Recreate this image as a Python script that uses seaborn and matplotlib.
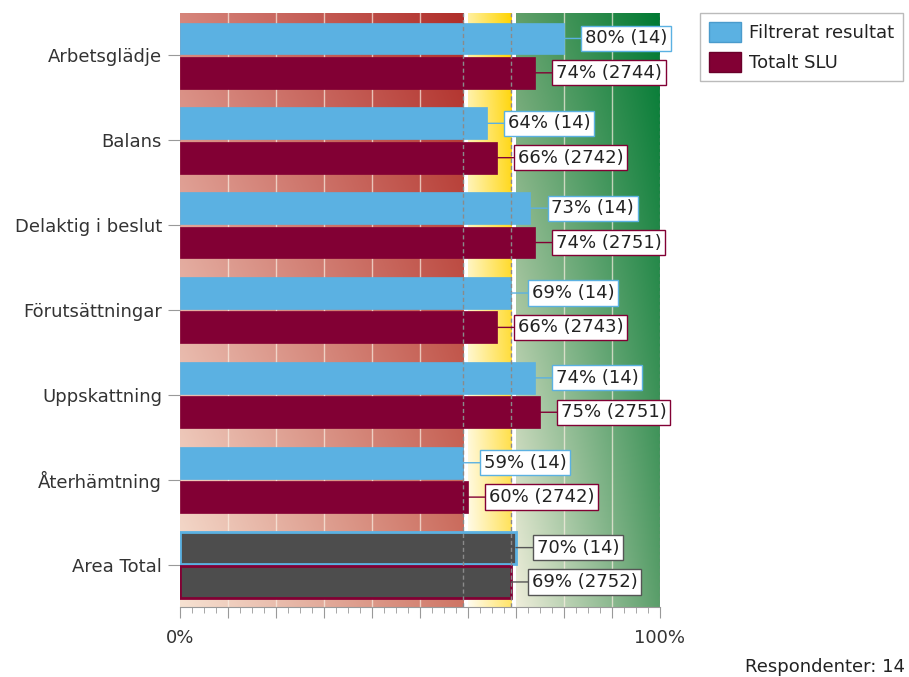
import matplotlib
matplotlib.use("Agg")
import matplotlib.pyplot as plt
from matplotlib.patches import Patch
from matplotlib.ticker import MultipleLocator
import numpy as np
import pandas as pd
import seaborn as sns

# data
kategorier = ["Arbetsglädje", "Balans", "Delaktig i beslut", "Förutsättningar",
              "Uppskattning", "Återhämtning", "Area Total"]
filtrerat = [80, 64, 73, 69, 74, 59, 70]
filtrerat_n = [14, 14, 14, 14, 14, 14, 14]
totalt = [74, 66, 74, 66, 75, 60, 69]
totalt_n = [2744, 2742, 2751, 2743, 2751, 2742, 2752]
serier = ["Filtrerat resultat", "Totalt SLU"]
respondenter = 14

# colour zones (percent): red / yellow / green, dashed limits
zoner = [(0, 59), (60, 69), (70, 100)]
granser = [59, 69]

BLUE = "#5bb1e2"
MAROON = "#820034"
TOTAL_FILL = "#4d4d4d"
zone_colors = [
    ("#d6857b", "#b02e2a", "#f7e2d2", "#cf7565"),
    ("#fff0a0", "#ffd400", "#fffcf0", "#ffe468"),
    ("#62a06a", "#007a33", "#efeedb", "#5a9e6a"),
]

df = pd.DataFrame({
    "kategori": kategorier * 2,
    "procent": filtrerat + totalt,
    "serie": [serier[0]] * len(kategorier) + [serier[1]] * len(kategorier),
})

plt.rcParams["font.family"] = ["DejaVu Sans"]
FS = 13
fig = plt.figure(figsize=(9.09, 6.77), dpi=100)
ax = fig.add_axes([180 / 909, 1 - 607 / 677, 480 / 909, 594 / 677])

sns.barplot(data=df, x="procent", y="kategori", hue="serie", orient="h",
            palette=[BLUE, MAROON], errorbar=None, legend=False,
            saturation=1, ax=ax, zorder=3)

ny = len(kategorier)
ax.set_xlim(0, 100)
ax.set_ylim(ny - 0.5, -0.5)


def hex2rgb(h):
    return np.array(matplotlib.colors.to_rgb(h))


# gradient background per zone
for (x0, x1), (tl, tr, bl, br) in zip(zoner, zone_colors):
    tx = np.linspace(0, 1, 120)[None, :, None]
    ty = np.linspace(0, 1, 200)[:, None, None]
    top = (1 - tx) * hex2rgb(tl) + tx * hex2rgb(tr)
    bot = (1 - tx) * hex2rgb(bl) + tx * hex2rgb(br)
    img = (1 - ty) * top + ty * bot
    ax.imshow(img, extent=(x0, x1, ny - 0.5, -0.5), origin="upper",
              aspect="auto", zorder=0, interpolation="bilinear")

for xv in range(10, 100, 10):
    if any(a < xv < b for a, b in zoner):
        ax.axvline(xv, color="#fbf0e4", lw=1, alpha=0.7, zorder=1)
for g in granser + [100]:
    ax.axvline(g, color="#8a8a8a", lw=1, ls=(0, (3, 2)), zorder=5)

# style bars, add value labels
BAR_H = 0.375
for p in ax.patches:
    cy = p.get_y() + p.get_height() / 2
    i = int(round(cy))
    s = 0 if cy < i else 1
    cy = i - 0.2 if s == 0 else i + 0.205
    p.set_height(BAR_H)
    p.set_y(cy - BAR_H / 2)
    val = p.get_width()
    n = (filtrerat_n if s == 0 else totalt_n)[i]
    edge = BLUE if s == 0 else MAROON
    if kategorier[i] == "Area Total":
        p.set_facecolor(TOTAL_FILL)
        p.set_edgecolor(edge)
        p.set_linewidth(2)
        lab_edge = "#555555"
    else:
        p.set_edgecolor(edge)
        p.set_linewidth(0.5)
        lab_edge = edge
    ax.annotate(f"{val:.0f}% ({n})", xy=(val, cy), xytext=(15, 0),
                textcoords="offset points", ha="left", va="center",
                fontsize=FS, color="#222222", zorder=6,
                bbox=dict(boxstyle="square,pad=0.2", fc="white", ec=lab_edge, lw=1),
                arrowprops=dict(arrowstyle="-", color=lab_edge, lw=1,
                                shrinkA=0, shrinkB=0))

# axes
for sp in ["top", "right", "left"]:
    ax.spines[sp].set_visible(False)
ax.spines["bottom"].set_color("#999999")
ax.xaxis.set_major_locator(MultipleLocator(10))
ax.xaxis.set_minor_locator(MultipleLocator(2.5))
ax.set_xticklabels(["0%" if t == 0 else "100%" if t == 100 else ""
                    for t in ax.get_xticks()])
ax.tick_params(axis="x", which="major", length=8, color="#999999",
               labelsize=FS, labelcolor="#333333", pad=8)
ax.tick_params(axis="x", which="minor", length=4, color="#999999")
ax.tick_params(axis="y", length=9, color="#999999", labelsize=FS,
               labelcolor="#333333", pad=4)
ax.set_xlabel("")
ax.set_ylabel("")

handles = [Patch(facecolor=BLUE, edgecolor="#4a9bcc"),
           Patch(facecolor=MAROON, edgecolor="#6a002a")]
fig.legend(handles, serier, loc="upper left", bbox_to_anchor=(700 / 909, 1 - 13 / 677),
           fontsize=FS, frameon=True, fancybox=False, edgecolor="#aaaaaa",
           handlelength=1.75, handleheight=1.3, borderpad=0.5, labelspacing=0.55,
           handletextpad=0.45, labelcolor="#222222", borderaxespad=0)

fig.text(905 / 909, 1 - 667 / 677, f"Respondenter: {respondenter}", ha="right",
         va="center", fontsize=FS, color="#222222")

fig.savefig("out.png", dpi=100)
